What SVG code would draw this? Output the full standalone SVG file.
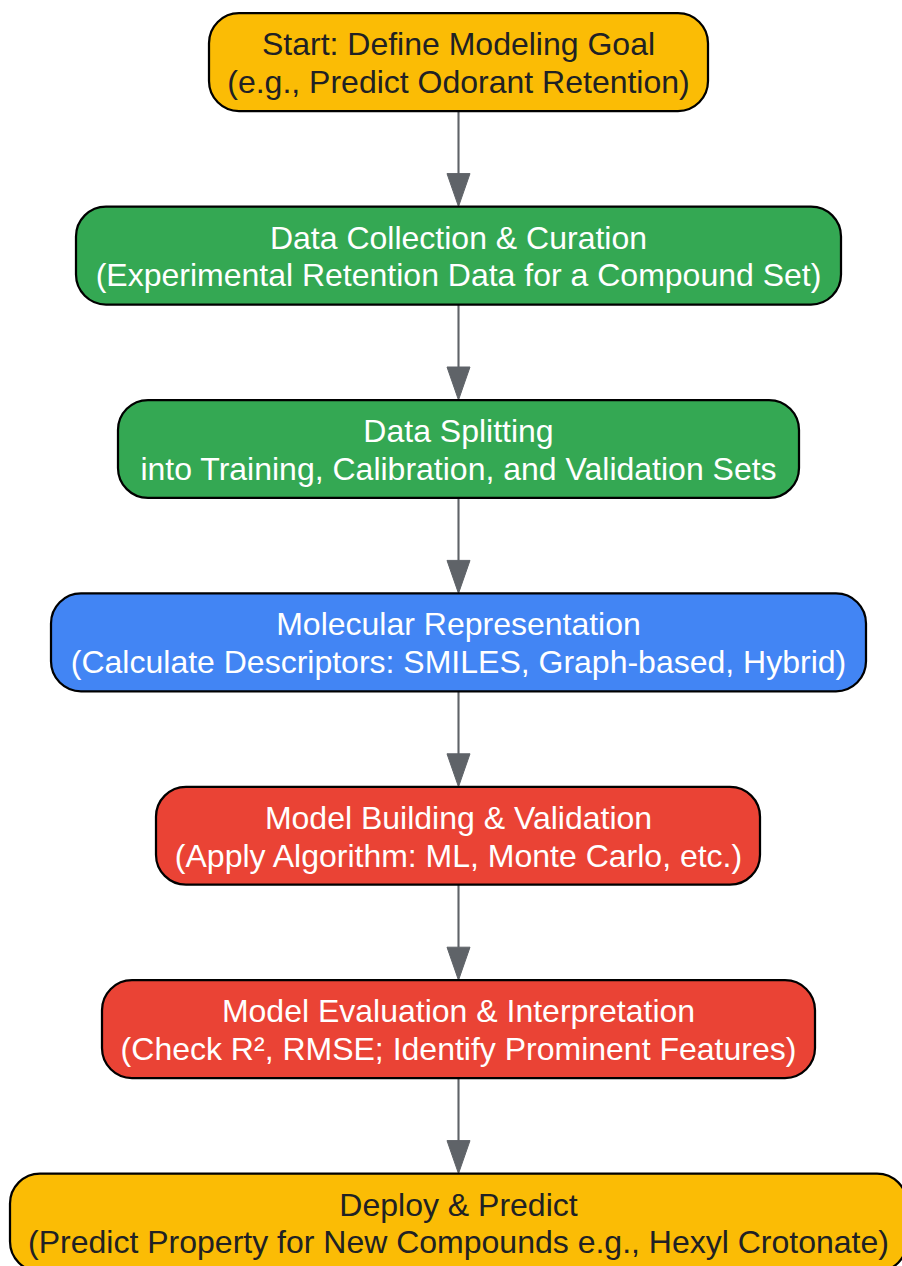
<svg xmlns="http://www.w3.org/2000/svg" width="902" height="1266" viewBox="0 0 902 1266">
<style>
  .box { stroke: #000000; stroke-width: 2.25; }
  .yellow { fill: #FBBC05; }
  .green { fill: #34A853; }
  .blue { fill: #4285F4; }
  .red { fill: #EA4335; }
  text { font-family: "Liberation Sans", Arial, Helvetica, sans-serif; font-size: 32px; text-anchor: middle; }
  .dark { fill: #202124; }
  .light { fill: #FFFFFF; }
  .edge { stroke: #5F6368; stroke-width: 2.1; fill: none; }
  .head { fill: #5F6368; stroke: #5F6368; stroke-width: 1; }
</style>
<rect width="902" height="1266" fill="#FFFFFF"/>
<g id="connectors">
  <line class="edge" x1="458.5" y1="111.1" x2="458.5" y2="174"/>
  <polygon class="head" points="458.5,206.6 447,173.6 470,173.6"/>
  <line class="edge" x1="458.5" y1="304.5" x2="458.5" y2="367.4"/>
  <polygon class="head" points="458.5,400 447,367 470,367"/>
  <line class="edge" x1="458.5" y1="497.9" x2="458.5" y2="560.8"/>
  <polygon class="head" points="458.5,593.4 447,560.4 470,560.4"/>
  <line class="edge" x1="458.5" y1="691.3" x2="458.5" y2="754.2"/>
  <polygon class="head" points="458.5,786.8 447,753.8 470,753.8"/>
  <line class="edge" x1="458.5" y1="884.7" x2="458.5" y2="947.6"/>
  <polygon class="head" points="458.5,980.2 447,947.2 470,947.2"/>
  <line class="edge" x1="458.5" y1="1078.1" x2="458.5" y2="1141"/>
  <polygon class="head" points="458.5,1173.6 447,1140.6 470,1140.6"/>
</g>
<g id="node-start">
  <rect class="box yellow" x="209" y="13.2" width="499" height="97.9" rx="30" ry="30"/>
  <text class="dark" x="458.5" y="55.2">Start: Define Modeling Goal</text>
  <text class="dark" x="458.5" y="93">(e.g., Predict Odorant Retention)</text>
</g>
<g id="node-data-collection">
  <rect class="box green" x="76" y="206.6" width="765" height="97.9" rx="30" ry="30"/>
  <text class="light" x="458.5" y="248.6">Data Collection &amp; Curation</text>
  <text class="light" x="458.5" y="286.4">(Experimental Retention Data for a Compound Set)</text>
</g>
<g id="node-data-splitting">
  <rect class="box green" x="118" y="400" width="681" height="97.9" rx="30" ry="30"/>
  <text class="light" x="458.5" y="442">Data Splitting</text>
  <text class="light" x="458.5" y="479.8">into Training, Calibration, and Validation Sets</text>
</g>
<g id="node-molecular-representation">
  <rect class="box blue" x="51" y="593.4" width="815" height="97.9" rx="30" ry="30"/>
  <text class="light" x="458.5" y="635.4">Molecular Representation</text>
  <text class="light" x="458.5" y="673.2">(Calculate Descriptors: SMILES, Graph-based, Hybrid)</text>
</g>
<g id="node-model-building">
  <rect class="box red" x="156" y="786.8" width="604" height="97.9" rx="30" ry="30"/>
  <text class="light" x="458.5" y="828.8">Model Building &amp; Validation</text>
  <text class="light" x="458.5" y="866.6">(Apply Algorithm: ML, Monte Carlo, etc.)</text>
</g>
<g id="node-model-evaluation">
  <rect class="box red" x="102" y="980.2" width="713" height="97.9" rx="30" ry="30"/>
  <text class="light" x="458.5" y="1022.2">Model Evaluation &amp; Interpretation</text>
  <text class="light" x="458.5" y="1060">(Check R², RMSE; Identify Prominent Features)</text>
</g>
<g id="node-deploy">
  <rect class="box yellow" x="10" y="1173.6" width="897" height="97.9" rx="30" ry="30"/>
  <text class="dark" x="458.5" y="1215.6">Deploy &amp; Predict</text>
  <text class="dark" x="458.5" y="1253.4">(Predict Property for New Compounds e.g., Hexyl Crotonate)</text>
</g>
</svg>
